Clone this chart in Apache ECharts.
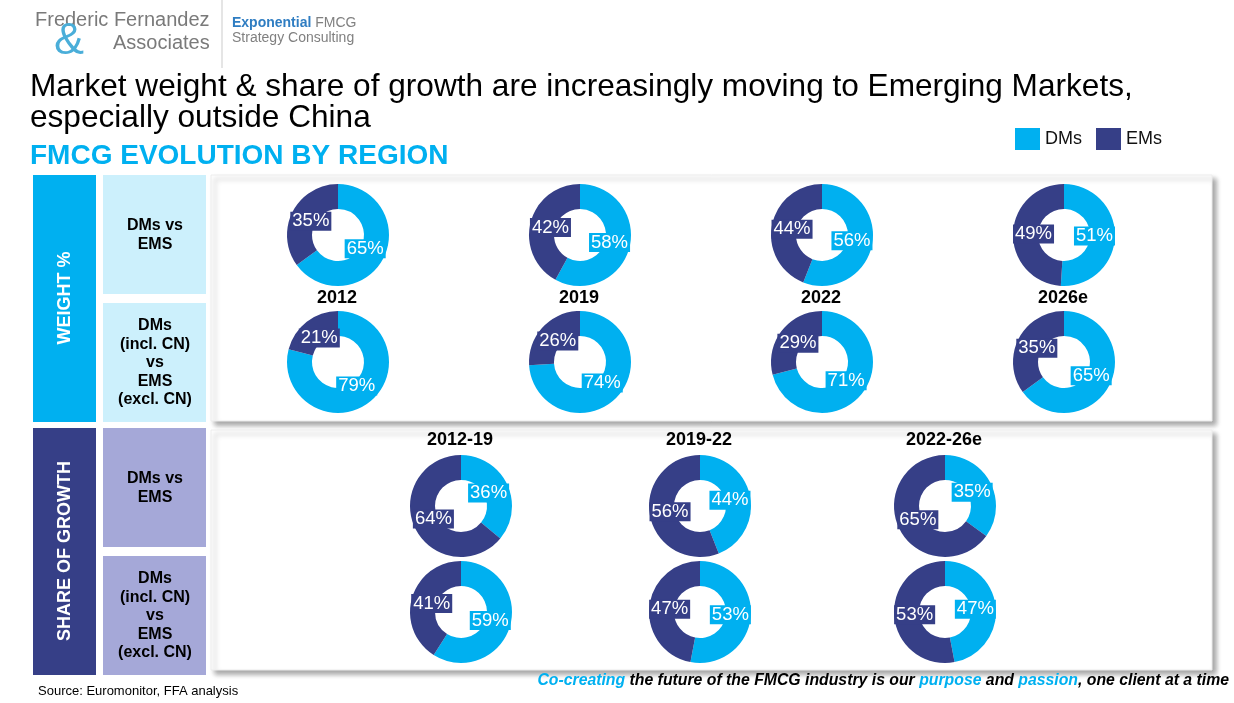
<!DOCTYPE html>
<html>
<head>
<meta charset="utf-8">
<script src="https://cdn.jsdelivr.net/npm/echarts@6/dist/echarts.min.js"></script>
<style>
html,body{margin:0;padding:0;background:#fff;}
#main{width:1234px;height:703px;}
</style>
</head>
<body>
<div id="main"></div>
<script>
// ---- data ----
const weightYears = ['2012', '2019', '2022', '2026e'];
const weightDMs = [65, 58, 56, 51];
const weightEMs = [35, 42, 44, 49];
const weightExclDMs = [79, 74, 71, 65];
const weightExclEMs = [21, 26, 29, 35];
const growthPeriods = ['2012-19', '2019-22', '2022-26e'];
const growthDMs = [36, 44, 35];
const growthEMs = [64, 56, 65];
const growthExclDMs = [59, 53, 47];
const growthExclEMs = [41, 47, 53];
const seriesNames = ['DMs', 'EMs'];

const DM_COLOR = '#00B0F0';
const EM_COLOR = '#363F87';
const FONT = '"Liberation Sans", Arial, sans-serif';

const chart = echarts.init(document.getElementById('main'));

const series = [];
function addDonut(cx, cy, dm, em) {
  series.push({
    type: 'pie', center: [cx, cy], radius: [26, 51], silent: true,
    label: { show: false }, labelLine: { show: false },
    itemStyle: { borderWidth: 0 },
    data: [
      { name: seriesNames[0], value: dm, itemStyle: { color: DM_COLOR } },
      { name: seriesNames[1], value: em, itemStyle: { color: EM_COLOR } }
    ]
  });
  series.push({
    type: 'pie', center: [cx, cy], radius: [0, 55], silent: true, z: 3,
    itemStyle: { color: 'rgba(0,0,0,0)' },
    labelLine: { show: false },
    label: {
      show: true, position: 'inside', formatter: '{c}%',
      color: '#fff', fontFamily: FONT, fontSize: 18.5, lineHeight: 19,
      padding: [0, 2, 0, 2]
    },
    data: [
      { name: seriesNames[0], value: dm, label: { backgroundColor: DM_COLOR } },
      { name: seriesNames[1], value: em, label: { backgroundColor: EM_COLOR } }
    ]
  });
}

const topX = [338, 580, 822, 1064];
weightYears.forEach((y, i) => {
  addDonut(topX[i], 235, weightDMs[i], weightEMs[i]);
  addDonut(topX[i], 362, weightExclDMs[i], weightExclEMs[i]);
});
const botX = [461, 700, 945];
growthPeriods.forEach((p, i) => {
  addDonut(botX[i], 506, growthDMs[i], growthEMs[i]);
  addDonut(botX[i], 612, growthExclDMs[i], growthExclEMs[i]);
});

const graphic = [];
function rect(x, y, w, h, fill, extra) {
  graphic.push(Object.assign({ type: 'rect', z: 0, silent: true, shape: { x, y, width: w, height: h }, style: Object.assign({ fill }, extra || {}) }));
}
function text(x, y, t, style, rot) {
  graphic.push({ type: 'text', z: 5, silent: true, x, y, rotation: rot || 0,
    style: Object.assign({ text: t, fontFamily: FONT, fill: '#000', verticalAlign: 'middle' }, style) });
}

// panels
const panelShadow = { shadowBlur: 5, shadowOffsetX: 4, shadowOffsetY: 4, shadowColor: 'rgba(0,0,0,0.35)', stroke: '#ececec', lineWidth: 1 };
rect(211, 175, 1001, 246, '#fff', panelShadow);
rect(211, 430, 1001, 240, '#fff', panelShadow);

// left boxes
rect(33, 175, 63, 247, '#00B0F0');
rect(103, 175, 103, 119, '#CCF0FC');
rect(103, 303, 103, 119, '#CCF0FC');
rect(33, 428, 63, 247, '#363F87');
rect(103, 428, 103, 119, '#A5A8D8');
rect(103, 556, 103, 119, '#A5A8D8');

text(65, 298, 'WEIGHT %', { fill: '#fff', fontSize: 18, fontWeight: 'bold', align: 'center' }, Math.PI / 2);
text(65, 551, 'SHARE OF GROWTH', { fill: '#fff', fontSize: 18, fontWeight: 'bold', align: 'center' }, Math.PI / 2);

const boxStyle = { fontSize: 16, fontWeight: 'bold', align: 'center', lineHeight: 18.5 };
text(155, 235, 'DMs vs\nEMS', boxStyle);
text(155, 363, 'DMs\n(incl. CN)\nvs\nEMS\n(excl. CN)', boxStyle);
text(155, 488, 'DMs vs\nEMS', boxStyle);
text(155, 616, 'DMs\n(incl. CN)\nvs\nEMS\n(excl. CN)', boxStyle);

// year / period labels
weightYears.forEach((y, i) => text(topX[i] - 1, 298, y, { fontSize: 18, fontWeight: 'bold', align: 'center' }));
growthPeriods.forEach((p, i) => text(botX[i] - 1, 440, p, { fontSize: 18, fontWeight: 'bold', align: 'center' }));

// logo
graphic.push({ type: 'line', z: 1, silent: true, shape: { x1: 222, y1: 0, x2: 222, y2: 68 }, style: { stroke: '#dcdcdc', lineWidth: 1.5 } });
text(35, 20, 'Frederic Fernandez', { fill: '#7a7a7a', fontSize: 20 });
text(54, 42, '&', { fill: '#4AAED9', fontSize: 45 });
text(113, 43, 'Associates', { fill: '#7a7a7a', fontSize: 20 });
text(232, 23, '{b|Exponential} FMCG', { fill: '#808080', fontSize: 14,
  rich: { b: { fill: '#2F7DC2', fontSize: 14, fontWeight: 'bold', fontFamily: FONT } } });
text(232, 38, 'Strategy Consulting', { fill: '#808080', fontSize: 14 });

// title
text(30, 87, 'Market weight & share of growth are increasingly moving to Emerging Markets,', { fontSize: 31.6 });
text(30, 118, 'especially outside China', { fontSize: 31.6 });
text(30, 156, 'FMCG EVOLUTION BY REGION', { fill: '#00B0F0', fontSize: 28, fontWeight: 'bold' });

// footer
text(38, 691, 'Source: Euromonitor, FFA analysis', { fontSize: 13 });
text(1229, 681, '{b|Co-creating} the future of the FMCG industry is our {b|purpose} and {b|passion}, one client at a time',
  { fontSize: 15.8, fontWeight: 'bold', fontStyle: 'italic', align: 'right',
    rich: { b: { fill: '#00B0F0', fontSize: 15.8, fontWeight: 'bold', fontStyle: 'italic', fontFamily: FONT } } });

chart.setOption({
  animation: false,
  legend: {
    left: 1015, top: 128, padding: 0, icon: 'rect', itemWidth: 25, itemHeight: 22, itemGap: 14,
    selectedMode: false,
    textStyle: { fontFamily: FONT, fontSize: 18, color: '#111' },
    data: [
      { name: seriesNames[0], itemStyle: { color: DM_COLOR } },
      { name: seriesNames[1], itemStyle: { color: EM_COLOR } }
    ]
  },
  graphic: graphic,
  series: series
});
</script>
</body>
</html>
